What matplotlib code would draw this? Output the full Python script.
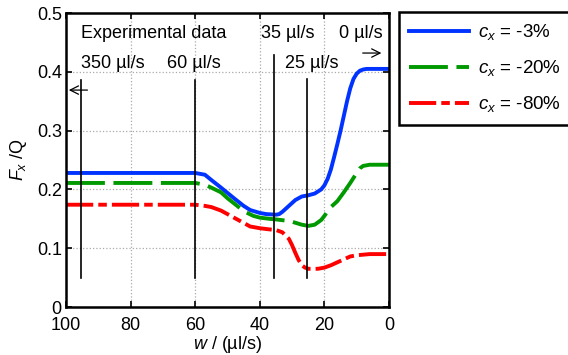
import matplotlib
matplotlib.use("Agg")
import matplotlib.pyplot as plt

plt.rcParams['font.family'] = ['Liberation Sans', 'DejaVu Sans']
plt.rcParams['mathtext.fontset'] = 'custom'
plt.rcParams['mathtext.rm'] = 'Liberation Sans'
plt.rcParams['mathtext.it'] = 'Liberation Sans:italic'

# values
w_blue = [100, 60, 57, 55, 52, 50, 48, 45, 43, 40, 38, 35, 34, 33, 31, 29, 27, 25, 23, 21, 20,
          19, 18, 17, 16, 15, 14, 13, 12, 11, 10, 9, 8, 7, 5, 0]
f_blue = [0.228, 0.228, 0.225, 0.216, 0.203, 0.194, 0.185, 0.172, 0.165, 0.160, 0.158, 0.157,
          0.158, 0.162, 0.172, 0.182, 0.188, 0.190, 0.193, 0.200, 0.207, 0.218, 0.234, 0.255,
          0.277, 0.300, 0.325, 0.350, 0.372, 0.388, 0.397, 0.402, 0.404, 0.405, 0.405, 0.405]

w_green = [100, 60, 57, 55, 52, 50, 47, 45, 42, 40, 37, 35, 32, 30, 27, 25, 23, 21, 20, 19, 18,
           16, 14, 12, 10, 9, 8, 6, 0]
f_green = [0.211, 0.211, 0.208, 0.203, 0.195, 0.185, 0.172, 0.163, 0.155, 0.152, 0.150, 0.149,
           0.147, 0.145, 0.140, 0.138, 0.140, 0.148, 0.155, 0.163, 0.170, 0.180, 0.195, 0.211,
           0.228, 0.236, 0.240, 0.242, 0.242]

w_red = [100, 60, 57, 55, 52, 50, 48, 45, 43, 40, 37, 35, 33, 31, 30, 29, 28, 27, 26, 25, 22,
         20, 18, 16, 14, 12, 10, 8, 6, 0]
f_red = [0.174, 0.174, 0.172, 0.170, 0.164, 0.158, 0.152, 0.143, 0.137, 0.134, 0.132, 0.131,
         0.127, 0.116, 0.105, 0.092, 0.080, 0.071, 0.067, 0.065, 0.065, 0.067, 0.071, 0.076,
         0.081, 0.086, 0.088, 0.089, 0.090, 0.090]

labels = ['$c_x$ = -3%', '$c_x$ = -20%', '$c_x$ = -80%']

# experimental flow rate markers
exp_w = [95.5, 60, 35.5, 25.3]
exp_top = [0.386, 0.386, 0.429, 0.388]
exp_text = ['350 µl/s', '60 µl/s', '35 µl/s', '25 µl/s']

fig = plt.figure(figsize=(5.68, 3.55), dpi=100)
ax = fig.add_axes([0.1162, 0.1352, 0.5687, 0.828])

ax.plot(w_blue, f_blue, color='#0033ff', lw=2.8, label=labels[0])
ax.plot(w_green, f_green, color='#009900', lw=2.8, dashes=(10, 2.2), label=labels[1])
ax.plot(w_red, f_red, color='#ff0000', lw=2.8, dashes=(7, 1.3, 2.2, 1.3), label=labels[2])

for xw, top in zip(exp_w, exp_top):
    ax.plot([xw, xw], [0.05, top], color='black', lw=1.2)

ax.text(95.5, 0.466, 'Experimental data', fontsize=13, va='center', ha='left')
ax.text(95.5, 0.415, exp_text[0], fontsize=13, va='center', ha='left')
ax.text(68.8, 0.415, exp_text[1], fontsize=13, va='center', ha='left')
ax.text(39.5, 0.466, exp_text[2], fontsize=13, va='center', ha='left')
ax.text(32.3, 0.415, exp_text[3], fontsize=13, va='center', ha='left')
ax.text(15.5, 0.466, '0 µl/s', fontsize=13, va='center', ha='left')

ax.annotate('', xy=(100, 0.369), xytext=(92.5, 0.369),
            arrowprops=dict(arrowstyle='->', color='black', lw=0.9, mutation_scale=15))
ax.annotate('', xy=(1.5, 0.432), xytext=(9, 0.432),
            arrowprops=dict(arrowstyle='->', color='black', lw=0.9, mutation_scale=15))

ax.set_xlim(100, 0)
ax.set_ylim(0, 0.5)
ax.set_xticks([100, 80, 60, 40, 20, 0])
ax.set_yticks([0, 0.1, 0.2, 0.3, 0.4, 0.5])
ax.set_xticklabels(['100', '80', '60', '40', '20', '0'])
ax.set_yticklabels(['0', '0.1', '0.2', '0.3', '0.4', '0.5'])
ax.grid(True, color='#aaaaaa', ls=':', lw=0.9)
ax.tick_params(direction='in', top=True, right=True, length=4, width=1.2, labelsize=13, pad=3)
ax.tick_params(axis='x', pad=7)
for s in ax.spines.values():
    s.set_linewidth(1.8)

ax.set_xlabel('$w$ / (µl/s)', fontsize=13, labelpad=0)
ax.set_ylabel('$F_x$ /Q', fontsize=13, labelpad=6)

fig.legend(loc='upper left', bbox_to_anchor=(0.702, 0.966), borderaxespad=0, fontsize=13.5,
           handlelength=3.2, handletextpad=0.5, labelspacing=0.85, borderpad=0.55,
           fancybox=False, edgecolor='black', framealpha=1).get_frame().set_linewidth(1.8)

fig.savefig('out.png', dpi=100)
